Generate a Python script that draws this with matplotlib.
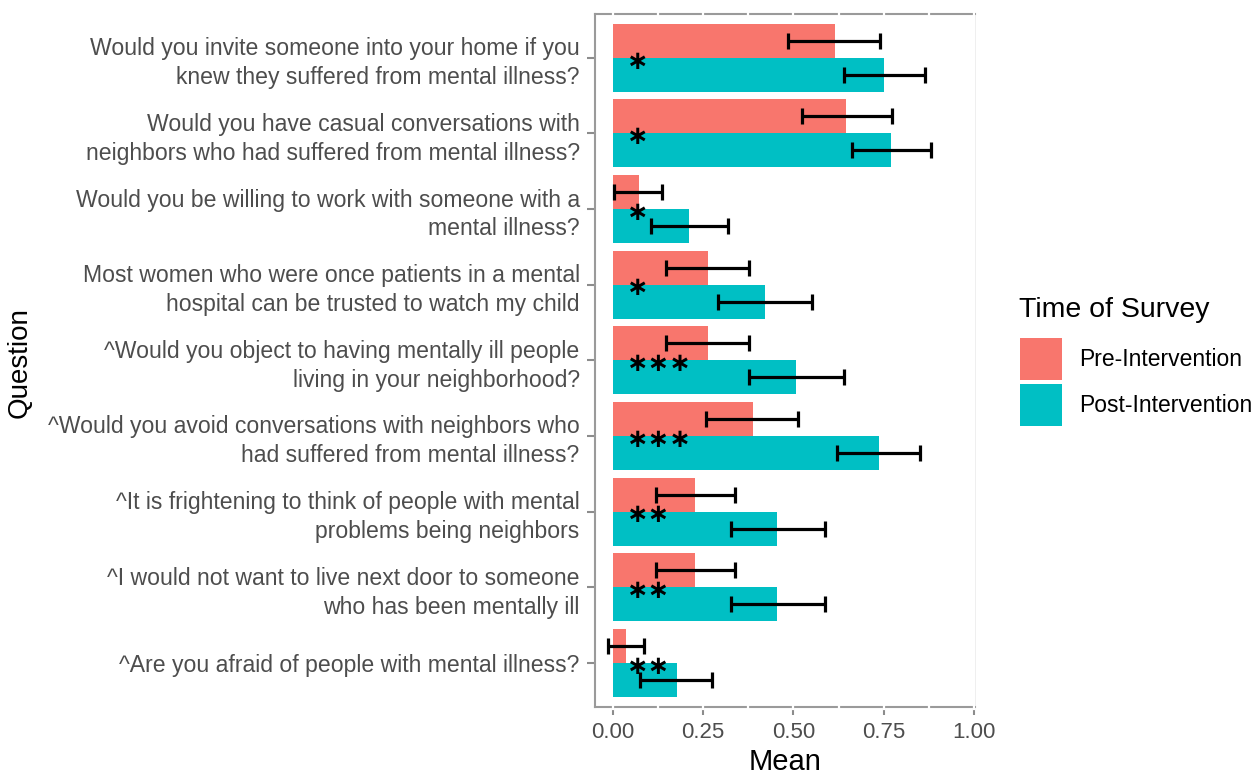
import matplotlib.pyplot as plt
import numpy as np

plt.rcParams['font.family'] = ['Liberation Sans', 'DejaVu Sans']

questions = [
    "Would you invite someone into your home if you\nknew they suffered from mental illness?",
    "Would you have casual conversations with\nneighbors who had suffered from mental illness?",
    "Would you be willing to work with someone with a\nmental illness?",
    "Most women who were once patients in a mental\nhospital can be trusted to watch my child",
    "^Would you object to having mentally ill people\nliving in your neighborhood?",
    "^Would you avoid conversations with neighbors who\nhad suffered from mental illness?",
    "^It is frightening to think of people with mental\nproblems being neighbors",
    "^I would not want to live next door to someone\nwho has been mentally ill",
    "^Are you afraid of people with mental illness?",
]
pre_mean = [0.615, 0.646, 0.071, 0.263, 0.263, 0.387, 0.227, 0.227, 0.035]
pre_lo = [0.486, 0.523, 0.002, 0.148, 0.148, 0.259, 0.119, 0.119, -0.013]
pre_hi = [0.740, 0.774, 0.137, 0.378, 0.378, 0.514, 0.339, 0.339, 0.086]
post_mean = [0.752, 0.771, 0.210, 0.420, 0.508, 0.736, 0.455, 0.455, 0.176]
post_lo = [0.641, 0.662, 0.104, 0.291, 0.378, 0.621, 0.326, 0.326, 0.075]
post_hi = [0.866, 0.881, 0.318, 0.551, 0.640, 0.851, 0.588, 0.588, 0.275]
signif = ["*", "*", "*", "*", "***", "***", "**", "**", "**"]

pre_col = '#F8766D'
post_col = '#00BFC4'
grey30 = '#4D4D4D'

n = len(questions)
y = np.arange(n, 0, -1)  # first question at the top
w = 0.45

fig = plt.figure(figsize=(12.56, 7.74), dpi=100)
ax = fig.add_axes([0.4737, 0.087, 0.3025, 0.895])

ax.barh(y + w / 2, pre_mean, height=w, color=pre_col, zorder=3, label='Pre-Intervention')
ax.barh(y - w / 2, post_mean, height=w, color=post_col, zorder=3, label='Post-Intervention')

pre_m = np.array(pre_mean)
post_m = np.array(post_mean)
ax.errorbar(pre_m, y + w / 2,
            xerr=[pre_m - np.array(pre_lo), np.array(pre_hi) - pre_m],
            fmt='none', ecolor='black', elinewidth=2.3, capsize=6, capthick=2.3, zorder=4)
ax.errorbar(post_m, y - w / 2,
            xerr=[post_m - np.array(post_lo), np.array(post_hi) - post_m],
            fmt='none', ecolor='black', elinewidth=2.3, capsize=6, capthick=2.3, zorder=4)

# significance stars near the zero line
for yi, s in zip(y, signif):
    ax.text(0.039, yi - 0.05, s.replace('*', '\u2217'), ha='left', va='center',
            fontsize=18.5, fontweight='bold', color='black', zorder=5,
            family=['DejaVu Sans'])

ax.set_xlim(-0.05, 1.003)
ax.set_ylim(0.42, n + 0.58)
ax.set_xticks([0, 0.25, 0.5, 0.75, 1.0])
ax.set_xticklabels(['0.00', '0.25', '0.50', '0.75', '1.00'])
ax.set_yticks(y)
ax.set_yticklabels(questions, linespacing=1.33)

ax.tick_params(axis='both', colors='#8C8C8C', length=6, width=1.5, labelcolor=grey30)
ax.tick_params(axis='y', pad=5, labelsize=16.6)
ax.tick_params(axis='x', pad=5, labelsize=16)

for side in ['left', 'bottom', 'top']:
    ax.spines[side].set_color('#9A9A9A')
    ax.spines[side].set_linewidth(1.5)
ax.spines['right'].set_color('#EBEBEB')
ax.spines['right'].set_linewidth(1.2)

# white grid lines cutting through the panel border
for gx in np.arange(0, 1.001, 0.125):
    ax.axvline(gx, color='white', lw=1.6, zorder=2.7, clip_on=False,
               ymin=-0.003, ymax=1.003)

ax.set_xlabel('Mean', fontsize=21, labelpad=4)
fig.text(20 / 1256, 1 - 363 / 774, 'Question', rotation=90, ha='center', va='center',
         fontsize=20)

# legend: title drawn separately so the key block can sit lower
fig.text(1019 / 1256, 1 - 310 / 774, 'Time of Survey', ha='left', va='center', fontsize=20.5)
fig.legend(handles=ax.get_legend_handles_labels()[0], labels=['Pre-Intervention', 'Post-Intervention'],
           loc='upper left', bbox_to_anchor=(1020 / 1256, 1 - 338 / 774),
           frameon=False, fontsize=16.5, handlelength=1.83,
           handleheight=2.45, handletextpad=0.75, labelspacing=0.17,
           borderpad=0, borderaxespad=0)

fig.savefig('out.png', dpi=100)
